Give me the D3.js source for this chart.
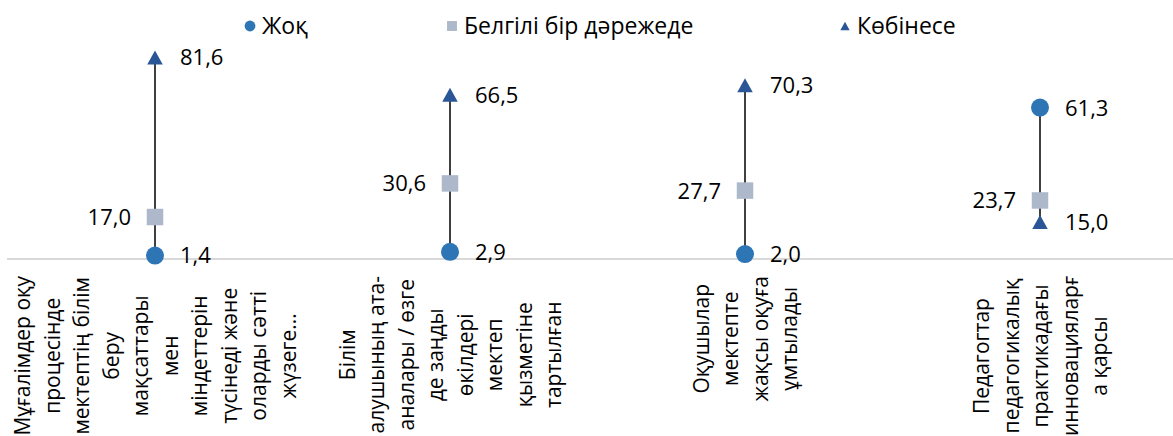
<!DOCTYPE html>
<html>
<head>
<meta charset="utf-8">
<script src="https://cdn.jsdelivr.net/npm/d3@7"></script>
<style>
  html, body { margin: 0; padding: 0; background: #fff; }
  svg { display: block; font-family: "Open Sans", "Noto Sans", sans-serif; }
</style>
</head>
<body>
<svg id="chart" width="1173" height="436"></svg>
<script>
// Category labels, already broken into the lines they are printed on
const categories = [
  ["Мұғалімдер оқу", "процесінде", "мектептің білім", "беру", "мақсаттары", "мен", "міндеттерін", "түсінеді және", "оларды сәтті", "жүзеге..."],
  ["Білім", "алушының ата-", "аналары / өзге", "де заңды", "өкілдері", "мектеп", "қызметіне", "тартылған"],
  ["Оқушылар", "мектепте", "жақсы оқуға", "ұмтылады"],
  ["Педагогтар", "педагогикалық", "практикадағы", "инновацияларғ", "а қарсы"]
];

const seriesNames = ["Жоқ", "Белгілі бір дәрежеде", "Көбінесе"];
const valuesNo        = [1.4, 2.9, 2.0, 61.3];
const valuesSomewhat  = [17.0, 30.6, 27.7, 23.7];
const valuesOften     = [81.6, 66.5, 70.3, 15.0];

const svg = d3.select("#chart");
const W = 1173, H = 436;

const x = d3.scalePoint()
  .domain(d3.range(categories.length))
  .range([7.5, 1187.5])
  .padding(0.5);

const y = d3.scaleLinear().domain([0, 100]).range([259, 12]);

const fmt = v => d3.format(".1f")(v).replace(".", ",");

const series = [
  { name: seriesNames[0], values: valuesNo,       shape: "circle",   color: "#2E75B6", labelSide: "right" },
  { name: seriesNames[1], values: valuesSomewhat, shape: "square",   color: "#ADB9CA", labelSide: "left" },
  { name: seriesNames[2], values: valuesOften,    shape: "triangle", color: "#2A5697", labelSide: "right" }
];

function drawMarker(g, shape, cx, cy, color, scale) {
  const s = scale || 1;
  if (shape === "circle") {
    g.append("circle").attr("cx", cx).attr("cy", cy).attr("r", 9 * s).attr("fill", color);
  } else if (shape === "square") {
    const a = 16.5 * s;
    g.append("rect").attr("x", cx - a / 2).attr("y", cy - a / 2).attr("width", a).attr("height", a).attr("fill", color);
  } else {
    const w = 15.5 * s, h = 14 * s;
    g.append("path")
      .attr("d", `M${cx},${cy - h / 2}L${cx + w / 2},${cy + h / 2}L${cx - w / 2},${cy + h / 2}Z`)
      .attr("fill", color);
  }
}

// Category axis line at zero
svg.append("line")
  .attr("x1", 7).attr("x2", W)
  .attr("y1", y(0)).attr("y2", y(0))
  .attr("stroke", "#D9D9D9").attr("stroke-width", 2);

// High-low connectors
const plot = svg.append("g");
categories.forEach((c, i) => {
  const vals = series.map(s => s.values[i]);
  plot.append("line")
    .attr("x1", x(i)).attr("x2", x(i))
    .attr("y1", y(d3.min(vals))).attr("y2", y(d3.max(vals)))
    .attr("stroke", "#000").attr("stroke-width", 1.5);
});

// Markers and value labels
series.forEach(s => {
  s.values.forEach((v, i) => {
    drawMarker(plot, s.shape, x(i), y(v), s.color);
    const right = s.labelSide === "right";
    plot.append("text")
      .attr("x", x(i) + (right ? 25 : -24))
      .attr("y", y(v))
      .attr("dy", "0.36em")
      .attr("text-anchor", right ? "start" : "end")
      .attr("font-size", 22)
      .attr("fill", "#000")
      .text(fmt(v));
  });
});

// Rotated, wrapped category labels
const lineStep = 29.5;
const labelTop = 276;
categories.forEach((lines, i) => {
  const g = svg.append("g");
  const texts = lines.map((ln, k) => {
    const cx = x(i) + (k - (lines.length - 1) / 2) * lineStep;
    return g.append("text")
      .attr("font-size", 21)
      .attr("fill", "#000")
      .attr("text-anchor", "middle")
      .attr("dominant-baseline", "central")
      .attr("data-cx", cx)
      .text(ln);
  });
  const maxLen = d3.max(texts, t => t.node().getComputedTextLength());
  const cy = labelTop + maxLen / 2;
  texts.forEach(t => {
    const cx = +t.attr("data-cx");
    t.attr("transform", `translate(${cx},${cy}) rotate(-90)`);
  });
});

// Legend
const legendPos = [250, 452, 845];
const legend = svg.append("g");
series.forEach((s, k) => {
  drawMarker(legend, s.shape, legendPos[k], 26, s.color, 0.6);
  legend.append("text")
    .attr("x", legendPos[k] + 12)
    .attr("y", 26)
    .attr("dy", "0.36em")
    .attr("font-size", 23)
    .attr("fill", "#000")
    .text(s.name);
});
</script>
</body>
</html>
